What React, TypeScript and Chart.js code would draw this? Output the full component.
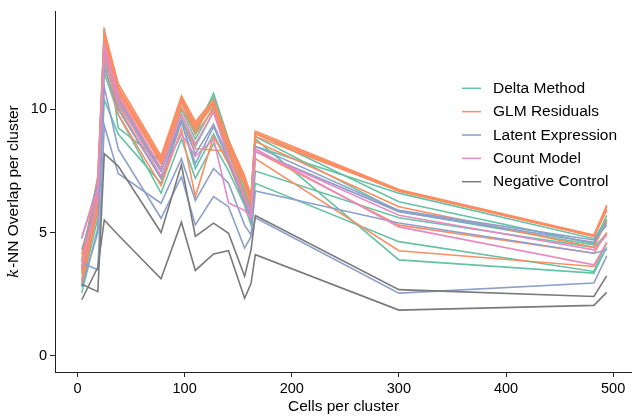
import React, { useEffect, useRef } from "react";
import { Chart, registerables } from "chart.js";
Chart.register(...registerables);

// ---- data ----
const CELLS = [4, 19, 25, 38, 78, 97, 110, 127, 141, 156, 162, 166, 300, 482, 494];
const X_TICKS = [0, 100, 200, 300, 400, 500];
const Y_TICKS = [0, 5, 10];

const DELTA_METHOD = [
  [3.5, 6.9, 13.3, 9.25, 7.9, 10.4, 9.1, 10.65, 8.8, 7.0, 6.4, 9.05, 6.25, 4.55, 5.7],
  [3.9, 7.2, 13.1, 10.9, 7.8, 10.3, 9.0, 10.5, 8.6, 6.9, 6.2, 8.9, 5.85, 4.5, 5.45],
  [2.55, 5.2, 10.4, 9.0, 7.0, 9.5, 7.6, 9.0, 7.8, 6.3, 5.6, 7.0, 4.63, 3.42, 4.6],
  [3.0, 6.0, 12.0, 10.2, 7.5, 9.8, 8.5, 9.9, 8.2, 6.6, 5.9, 8.8, 3.89, 3.35, 4.4],
  [3.3, 6.4, 12.4, 10.5, 7.6, 10.0, 8.8, 10.1, 8.4, 6.7, 6.0, 8.5, 6.6, 4.75, 5.55],
  [2.8, 5.6, 11.5, 9.8, 6.6, 8.8, 7.2, 8.6, 7.5, 6.1, 5.3, 7.5, 5.6, 4.4, 4.95],
];
const GLM_RESIDUALS = [
  [3.8, 7.3, 13.2, 11.05, 8.1, 10.55, 9.5, 10.4, 8.75, 7.3, 6.5, 9.12, 6.75, 4.9, 6.12],
  [3.6, 7.1, 13.0, 10.9, 8.0, 10.45, 9.4, 10.3, 8.65, 7.2, 6.4, 9.05, 6.72, 4.87, 6.05],
  [4.1, 7.0, 12.9, 10.8, 7.9, 10.35, 9.3, 10.25, 8.55, 7.1, 6.3, 9.0, 6.68, 4.85, 5.95],
  [3.4, 6.6, 12.6, 10.5, 7.6, 10.1, 9.0, 10.0, 8.3, 6.9, 6.1, 8.7, 6.05, 4.4, 5.5],
  [3.1, 6.2, 12.2, 10.1, 7.2, 9.6, 8.4, 8.35, 8.3, 6.5, 5.8, 8.3, 5.3, 4.16, 5.0],
  [2.9, 5.9, 11.8, 9.8, 6.9, 9.2, 6.45, 8.9, 7.8, 6.2, 5.5, 8.0, 4.26, 3.62, 4.6],
  [3.5, 6.8, 12.7, 10.7, 7.8, 10.3, 9.2, 10.2, 8.5, 7.0, 6.2, 8.9, 6.7, 4.85, 5.9],
];
const LATENT_EXPRESSION = [
  [4.75, 7.0, 11.73, 10.0, 7.2, 9.5, 7.8, 9.3, 7.9, 6.2, 5.5, 8.3, 5.85, 4.6, 5.4],
  [3.77, 3.49, 9.35, 7.4, 6.19, 8.0, 6.3, 7.6, 7.0, 5.3, 4.9, 6.69, 5.39, 4.16, 4.3],
  [2.8, 5.0, 10.9, 8.4, 5.58, 7.27, 5.31, 6.46, 6.05, 4.37, 4.84, 5.6, 2.54, 2.95, 4.05],
  [4.3, 6.5, 12.3, 10.4, 7.5, 9.6, 8.2, 9.4, 8.0, 6.4, 5.7, 8.5, 5.9, 4.7, 5.3],
];
const COUNT_MODEL = [
  [4.84, 6.8, 12.6, 10.6, 7.6, 9.8, 8.6, 9.9, 8.0, 6.4, 5.8, 8.4, 5.23, 3.69, 4.57],
  [3.6, 6.5, 12.4, 10.3, 7.3, 9.0, 8.1, 8.8, 6.2, 5.9, 5.6, 8.3, 5.7, 4.3, 4.9],
];
const NEGATIVE_CONTROL = [
  [2.9, 2.6, 8.2, 7.7, 5.0, 7.75, 4.84, 5.38, 4.97, 3.22, 4.3, 5.69, 2.68, 2.4, 3.24],
  [2.27, 3.6, 5.51, 4.9, 3.12, 5.42, 3.46, 4.13, 4.26, 2.33, 2.94, 4.1, 1.85, 2.04, 2.57],
];

const GROUP_LABELS = ["Delta Method", "GLM Residuals", "Latent Expression", "Count Model", "Negative Control"];
const GROUP_COLORS = ["#66c2a5", "#fc8d62", "#8da0cb", "#e78ac3", "#7a7a7a"];
const GROUP_SERIES = [DELTA_METHOD, GLM_RESIDUALS, LATENT_EXPRESSION, COUNT_MODEL, NEGATIVE_CONTROL];

const FONT = '"Liberation Sans", Arial, Helvetica, sans-serif';

const yTitlePlugin = {
  id: "yTitle",
  afterDraw(chart: any) {
    const ctx = chart.ctx;
    const { top, bottom } = chart.chartArea;
    const cy = (top + bottom) / 2;
    ctx.save();
    ctx.translate(17.5, cy);
    ctx.rotate(-Math.PI / 2);
    ctx.fillStyle = "#000";
    ctx.textBaseline = "alphabetic";
    const f1 = 'italic 15.5px "DejaVu Serif", "Liberation Serif", serif';
    const f2 = `15.5px ${FONT}`;
    const t1 = "k";
    const t2 = "-NN Overlap per cluster";
    ctx.font = f1;
    const w1 = ctx.measureText(t1).width;
    ctx.font = f2;
    const w2 = ctx.measureText(t2).width;
    const start = -(w1 + w2) / 2;
    ctx.font = f1;
    ctx.fillText(t1, start, 0);
    ctx.font = f2;
    ctx.fillText(t2, start + w1 + 0.5, 0);
    ctx.restore();
  },
};

const legendPlugin = {
  id: "customLegend",
  afterDraw(chart: any) {
    const ctx = chart.ctx;
    ctx.save();
    ctx.font = `15.5px ${FONT}`;
    ctx.textBaseline = "middle";
    ctx.textAlign = "left";
    GROUP_LABELS.forEach((label, i) => {
      const y = 88.3 + i * 23.35;
      ctx.strokeStyle = GROUP_COLORS[i];
      ctx.lineWidth = 1.5;
      ctx.beginPath();
      ctx.moveTo(462, y);
      ctx.lineTo(481, y);
      ctx.stroke();
      ctx.fillStyle = "#000";
      ctx.fillText(label, 493, y + 0.5);
    });
    ctx.restore();
  },
};

export default function App() {
  const ref = useRef<HTMLCanvasElement>(null);
  useEffect(() => {
    const datasets: any[] = [];
    GROUP_SERIES.forEach((series, g) => {
      series.forEach((vals) => {
        datasets.push({
          label: GROUP_LABELS[g],
          data: vals.map((v, i) => ({ x: CELLS[i], y: v })),
          borderColor: GROUP_COLORS[g],
          backgroundColor: GROUP_COLORS[g],
          borderWidth: 1.6,
          pointRadius: 0,
          tension: 0,
          fill: false,
        });
      });
    });
    datasets.forEach((d, i) => (d.order = datasets.length - i));

    const chart = new Chart(ref.current as HTMLCanvasElement, {
      type: "line",
      data: { datasets },
      options: {
        animation: false,
        responsive: false,
        layout: { padding: { top: 11.3, left: 0, right: 0, bottom: 0 } },
        plugins: { legend: { display: false }, tooltip: { enabled: false }, title: { display: false } },
        scales: {
          x: {
            type: "linear",
            min: -21,
            max: 517.6,
            afterBuildTicks: (s: any) => {
              s.ticks = X_TICKS.map((v) => ({ value: v }));
            },
            afterFit: (s: any) => {
              s.height = 44;
            },
            grid: { drawOnChartArea: false, drawTicks: true, tickLength: 5, color: "#222", lineWidth: 1 },
            border: { display: true, color: "#222", width: 1 },
            ticks: { color: "#000", font: { family: FONT, size: 14.5 }, padding: 3, maxRotation: 0, autoSkip: false },
            title: {
              display: true,
              text: "Cells per cluster",
              color: "#000",
              font: { family: FONT, size: 15.5 },
              padding: { top: 0, bottom: 0 },
            },
          },
          y: {
            type: "linear",
            min: -0.665,
            max: 13.97,
            afterBuildTicks: (s: any) => {
              s.ticks = Y_TICKS.map((v) => ({ value: v }));
            },
            afterFit: (s: any) => {
              s.width = 55;
            },
            grid: { drawOnChartArea: false, drawTicks: true, tickLength: 5, color: "#222", lineWidth: 1 },
            border: { display: true, color: "#222", width: 1 },
            ticks: { color: "#000", font: { family: FONT, size: 14.5 }, padding: 3 },
          },
        },
      },
      plugins: [yTitlePlugin, legendPlugin],
    } as any);
    return () => chart.destroy();
  }, []);
  return (
    <div style={{ position: "fixed", left: 0, top: 0, width: 632, height: 416, background: "#fff" }}>
      <canvas ref={ref} width={632} height={416} style={{ width: 632, height: 416, display: "block" }} />
    </div>
  );
}
